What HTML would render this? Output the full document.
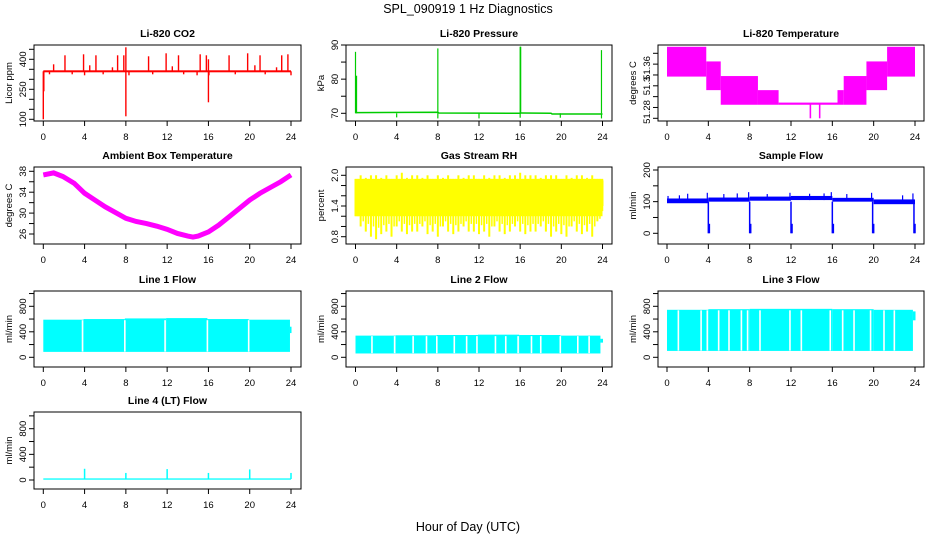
<!DOCTYPE html>
<html><head><meta charset="utf-8"><style>
html,body{margin:0;padding:0;background:#fff}
svg{display:block;font-family:"Liberation Sans",Arial,sans-serif}
</style></head><body>
<svg id="c" width="936" height="540" xmlns="http://www.w3.org/2000/svg">
<rect width="936" height="540" fill="#fff"/>
<text x="468" y="13" text-anchor="middle" font-size="12.5">SPL_090919  1 Hz Diagnostics</text>
<text x="468" y="531" text-anchor="middle" font-size="12.5">Hour of Day (UTC)</text>
</svg>
<script>
// ---- data ----
const xTicks=[0,4,8,12,16,20,24];
const co2Base=[335,345];
const co2UpHours=[1.0,2.1,3.9,4.5,5.1,6.7,7.2,7.8,8.0,10.2,11.9,12.5,13.1,15.2,15.8,16.0,18.0,19.8,20.5,21.0,22.6,23.1,23.7];
const co2UpVals=[375,420,425,370,420,360,420,420,460,415,430,365,420,425,420,400,420,430,370,420,360,420,425];
const co2DownHours=[0.0,0.05,8.0,16.0,16.05,0.6,2.8,4.0,5.8,8.3,10.6,13.6,14.9,18.6,21.5,24.0];
const co2DownVals=[100,240,115,185,320,325,325,320,325,320,325,325,320,325,325,320];
const presBaseHours=[0,8,8.1,16,16.1,19,19.1,24];
const presBaseVals=[70.2,70.3,70.1,70.0,70.1,70.0,69.8,69.8];
const presSpikeHours=[0.0,0.1,8.0,16.0,16.05,23.9];
const presSpikeVals=[88,81,89,89.5,89.5,88.5];
const presDipHours=[4.0,8.0,12.0,16.0,19.9,23.9];
const presDipVals=[68.8,68.5,68.5,68.7,68.7,68.5];
const tStart=[0,3.8,5.2,8.8,10.8,16.5,17.1,19.3,21.3];
const tEnd=[3.8,5.2,8.8,10.8,16.5,17.1,19.3,21.3,24];
const tLo=[51.357,51.332,51.305,51.305,51.305,51.305,51.305,51.332,51.357];
const tHi=[51.412,51.385,51.358,51.332,51.309,51.332,51.358,51.385,51.412];
const tDipHours=[13.8,14.7];
const ambHours=[0,1,1.9,3,4,5,6,7,8,9,10,11,12,13,14,14.5,15,16,17,18,19,20,21,22,23,24];
const ambVals=[37.3,37.7,37.0,35.7,33.8,32.5,31.2,30.1,29.0,28.4,28.0,27.5,26.9,26.1,25.6,25.4,25.6,26.4,27.7,29.3,30.9,32.5,33.8,34.9,36.0,37.3];
const rhHi=[1.93,2.0,1.95,2.0,2.0,1.95,2.0,1.93,2.0,2.05,1.95,2.0,2.0,1.95,2.0,1.93,2.0,1.95,2.0,1.93,2.0,1.95,2.0,2.0,1.93,2.0,1.95,2.0,2.0,1.95,2.0,2.0,2.05,2.0,2.0,2.0,1.95,2.0,2.0,2.0,1.93,2.0,1.95,2.0,2.0,1.95,2.0,1.93,1.9];
const rhLo=[1.2,1.0,0.9,0.8,0.75,0.85,0.9,0.8,1.0,0.9,0.85,0.9,0.9,1.0,0.85,0.9,0.8,1.0,0.9,0.85,0.9,1.0,0.9,0.9,0.85,0.9,0.8,1.0,0.9,0.85,0.9,1.0,0.9,0.85,0.9,0.9,1.0,0.9,0.8,0.9,0.85,0.8,1.0,0.9,0.85,0.9,0.8,1.1,1.4];
const sfStart=[0,4,8,12,16,20];
const sfEnd=[4,8,12,16,20,24];
const sfLo=[95,100,103,105,100,92];
const sfHi=[110,113,116,118,112,107];
const sfDipHours=[4.0,8.0,12.0,16.0,19.9,23.9];
const sfSpikeHours=[0.1,1.2,2.0,3.9,5.5,6.8,7.9,9.7,11.9,13.8,15.2,15.9,17.4,19.8,22.8,23.8];
const sfSpikeVals=[118,120,125,128,124,126,130,124,128,125,126,130,124,128,120,126];
const l1Start=[0,3.9,7.9,11.9,15.9,19.9];
const l1End=[3.9,7.9,11.9,15.9,19.9,23.9];
const l1Hi=[590,600,610,615,600,590];
const l1Low=85;
const l1Gaps=[3.8,7.9,11.8,15.9,19.9];
const l2Start=[0,3.9,7.9,11.9,15.9,19.9];
const l2End=[3.9,7.9,11.9,15.9,19.9,23.8];
const l2Hi=[340,345,350,355,350,340];
const l2Low=60;
const l2Gaps=[1.6,3.8,5.6,6.9,7.9,9.6,10.8,11.8,13.6,14.6,15.8,17.1,18.0,19.9,21.6,22.7];
const l3Start=[0,4,8,12,16,20];
const l3End=[4,8,12,16,20,23.8];
const l3Hi=[745,755,760,760,755,745];
const l3Low=100;
const l3Gaps=[1.1,3.3,3.9,5.0,6.0,7.2,7.8,9.0,11.9,13.0,15.8,17.0,18.1,19.7,21.0,22.0];
const l4Base=[5,25];
const l4SpikeHours=[4.0,8.0,12.0,16.0,20.0,24.0];
const l4SpikeVals=[175,110,170,110,165,110];

// ---- layout ----
const NS="http://www.w3.org/2000/svg";
const svg=document.getElementById('c');
const cols=[{x0:43.3,x1:291,l:34,r:301},{x0:355.5,x1:602.5,l:346,r:612},{x0:667,x1:915,l:658,r:924}];
const rows=[{t:45,b:121},{t:167,b:244},{t:291,b:367},{t:412,b:489}];
function mk(tag,attrs,parent){const e=document.createElementNS(NS,tag);for(const k in attrs)e.setAttribute(k,attrs[k]);(parent||svg).appendChild(e);return e;}
function panel(name,c,r,title,ylab,v0,p0,v1,p1,ticks,labels,labelPos){
  const C=cols[c],R=rows[r];
  const g=mk('g',{});
  
  
  const X=h=>C.x0+(C.x1-C.x0)*h/24;
  const Y=v=>p0+(p1-p0)*(v-v0)/(v1-v0);
  const data=mk('g',{},g);
  
  
  const frame=mk('rect',{x:C.l,y:R.t,width:C.r-C.l,height:R.b-R.t,fill:'none',stroke:'#000','stroke-width':1},g);
  
  
  const t=mk('text',{x:(C.l+C.r)/2,y:R.t-8,'text-anchor':'middle','font-size':10.5,'font-weight':'bold'},g);
  t.textContent=title;
  
  
  const yl=mk('text',{x:0,y:0,'text-anchor':'middle','font-size':9.5,transform:`translate(${C.l-22},${(R.t+R.b)/2}) rotate(-90)`},g);
  yl.textContent=ylab;
  
  
  xTicks.forEach(h=>{
    mk('line',{x1:X(h),x2:X(h),y1:R.b,y2:R.b+5,stroke:'#000'},g);
    const tl=mk('text',{x:X(h),y:R.b+19,'text-anchor':'middle','font-size':9.5},g);
    tl.textContent=h;
    
    
  });
  ticks.forEach(v=>{mk('line',{x1:C.l-5,x2:C.l,y1:Y(v),y2:Y(v),stroke:'#000'},g);});
  labels.forEach((v,i)=>{
    const py=labelPos?labelPos[i]:Y(v);
    const tl=mk('text',{x:0,y:0,'text-anchor':'middle','font-size':9.5,transform:`translate(${C.l-8},${py}) rotate(-90)`},g);
    tl.textContent=v;
    
    
  });
  return {X,Y,g:data};
}
function vline(P,h,a,b,col,w){return mk('line',{x1:P.X(h),x2:P.X(h),y1:P.Y(a),y2:P.Y(b),stroke:col,'stroke-width':w||1.3},P.g);}
function band(P,h0,h1,a,b,col){return mk('rect',{x:P.X(h0),y:Math.min(P.Y(a),P.Y(b)),width:P.X(h1)-P.X(h0),height:Math.abs(P.Y(a)-P.Y(b)),fill:col},P.g);}
function poly(P,hs,vs,col,w){return mk('polyline',{points:hs.map((h,i)=>P.X(h)+','+P.Y(vs[i])).join(' '),fill:'none',stroke:col,'stroke-width':w},P.g);}
const seq=(a,b,s)=>{const o=[];for(let v=a;v<=b+1e-9;v+=s)o.push(+v.toFixed(3));return o;};

// CO2
let P=panel('co2',0,0,'Li-820 CO2','Licor ppm',100,119.3,450,49.3,seq(100,450,50),[100,250,400]);
band(P,0,24,co2Base[0],co2Base[1],'#ff0000');
co2UpHours.forEach((h,i)=>vline(P,h,340,co2UpVals[i],'#ff0000',1.4));
co2DownHours.forEach((h,i)=>vline(P,h,340,co2DownVals[i],'#ff0000',1.4));
// Pressure
P=panel('pressure',1,0,'Li-820 Pressure','kPa',70,113.3,90,45,seq(70,90,5),[70,80,90]);
poly(P,presBaseHours,presBaseVals,'#00cc00',1.5);
presSpikeHours.forEach((h,i)=>vline(P,h,70,presSpikeVals[i],'#00cc00',1.2));
presDipHours.forEach((h,i)=>vline(P,h,70,presDipVals[i],'#00cc00',1.2));
// Temperature
P=panel('li820-temperature',2,0,'Li-820 Temperature','degrees C',51.28,118.3,51.40,53.3,seq(51.28,51.40,0.02),['51.28','51.3','51.36'],[112,86,68]);
tStart.forEach((s,i)=>band(P,s,tEnd[i],tLo[i],tHi[i],'#ff00ff'));
tDipHours.forEach(h=>band(P,h,h+0.15,51.28,51.307,'#ff00ff'));
// Ambient
P=panel('ambient-temperature',0,1,'Ambient Box Temperature','degrees C',26,234,38,171.3,seq(26,38,2),[26,30,34,38]);
poly(P,ambHours,ambVals,'#ff00ff',5);
// RH
P=panel('gas-stream-rh',1,1,'Gas Stream RH','percent',0.8,236.7,2.0,175.3,seq(0.8,2.0,0.2),['0.8','1.4','2.0']);
band(P,0,24,1.2,1.93,'#ffff00');
rhHi.forEach((v,i)=>{const h=Math.min(24,i*0.5);vline(P,h,rhLo[i],v,'#ffff00',2);vline(P,Math.min(24,h+0.25),(rhLo[i]+1.2)/2,1.93,'#ffff00',1.5);});
// Sample flow
P=panel('sample-flow',2,1,'Sample Flow','ml/min',0,233.3,200,170,seq(0,200,50),[0,100,200]);
sfStart.forEach((s,i)=>band(P,s,sfEnd[i],sfLo[i],sfHi[i],'#0000ff'));
sfDipHours.forEach(h=>{vline(P,h,100,0,'#0000ff',1.5);vline(P,h+0.1,30,0,'#0000ff',1.5);});
sfSpikeHours.forEach((h,i)=>vline(P,h,105,sfSpikeVals[i],'#0000ff',1.2));
// Line flows
function flow(name,c,r,title,p0,p800,st,en,hi,lo,gaps){
  const P=panel(name,c,r,title,'ml/min',0,p0,800,p800,seq(0,1000,200),[0,400,800]);
  st.forEach((s,i)=>band(P,s,en[i],lo,hi[i],'#00ffff'));
  gaps.forEach(h=>vline(P,h,lo+5,hi[0]-8,'#ffffff',1.6));
  return P;
}
P=flow('line-1-flow',0,2,'Line 1 Flow',357.3,306.3,l1Start,l1End,l1Hi,l1Low,l1Gaps);
band(P,23.9,24.05,380,480,'#00ffff');
P=flow('line-2-flow',1,2,'Line 2 Flow',357.3,306.3,l2Start,l2End,l2Hi,l2Low,l2Gaps);
band(P,23.8,24.05,230,290,'#00ffff');
P=flow('line-3-flow',2,2,'Line 3 Flow',357.3,306.3,l3Start,l3End,l3Hi,l3Low,l3Gaps);
band(P,23.8,24.05,580,720,'#00ffff');
P=panel('line-4-flow',0,3,'Line 4 (LT) Flow','ml/min',0,480,800,428.7,seq(0,1000,200),[0,400,800]);
band(P,0,24,l4Base[0],l4Base[1],'#00ffff');
l4SpikeHours.forEach((h,i)=>vline(P,h,15,l4SpikeVals[i],'#00ffff',1.5));
</script>
</body></html>
